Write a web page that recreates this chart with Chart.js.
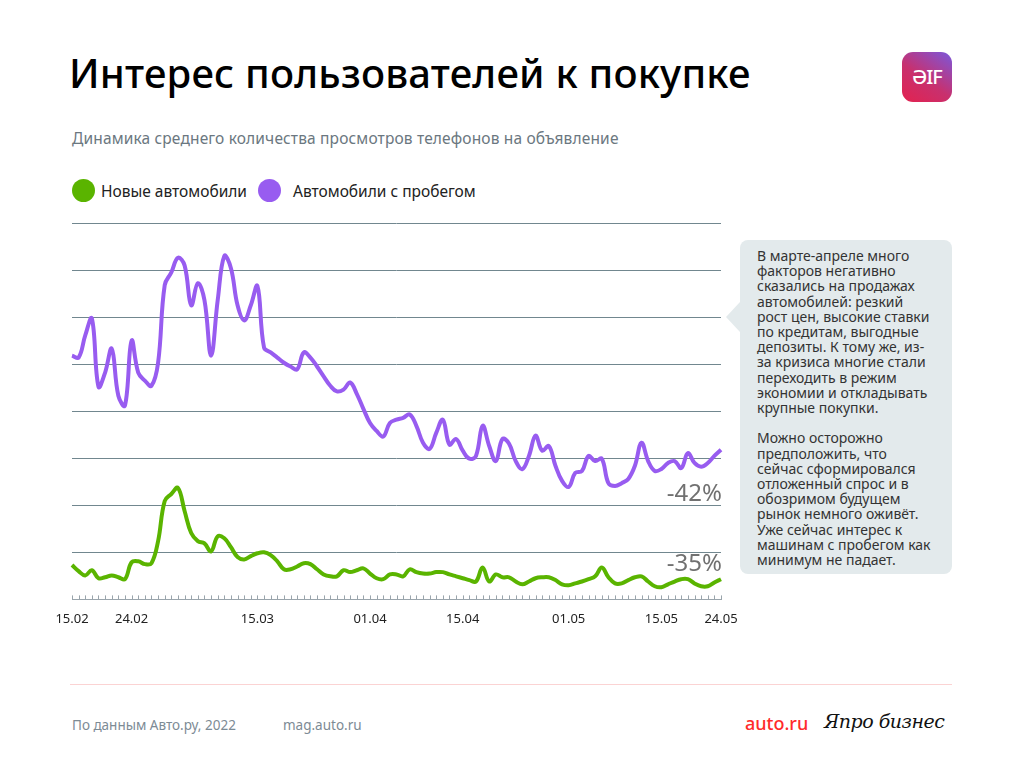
<!DOCTYPE html>
<html lang="ru">
<head>
<meta charset="utf-8">
<script src="https://cdn.jsdelivr.net/npm/chart.js@4/dist/chart.umd.min.js"></script>
<style>
  html, body { margin: 0; padding: 0; background: #fff; }
  body { width: 1024px; height: 768px; position: relative; overflow: hidden; font-family: 'Noto Sans', sans-serif; }
  .abs { position: absolute; }
  #title { left: 69px; top: 45px; font-size: 40px; font-weight: 500; color: #000; white-space: nowrap; letter-spacing: 0.2px; }
  #subtitle { left: 72px; top: 127px; font-size: 15.5px; color: #6b7780; white-space: nowrap; letter-spacing: 0.15px; }
  .legend { top: 179px; font-size: 15.5px; color: #222; white-space: nowrap; display: flex; align-items: center; }
  .dot { width: 23px; height: 23px; border-radius: 50%; display: inline-block; margin-right: 6px; }
  #chart-wrap { left: 0; top: 210px; width: 1024px; height: 430px; }
  #note { left: 740px; top: 240px; width: 212px; height: 334px; background: #e3eaec; border-radius: 8px; box-sizing: border-box; padding: 8px 6px 0 17px; font-size: 14px; line-height: 15.2px; color: #333; white-space: nowrap; }
  #note:before { content: ''; position: absolute; left: -14px; top: 62px; border-top: 15px solid transparent; border-bottom: 15px solid transparent; border-right: 14px solid #e3eaec; }
  #logo { left: 902px; top: 52px; width: 50px; height: 50px; border-radius: 11px; background: linear-gradient(35deg, #e3224f 0%, #c8306e 45%, #7a58dc 100%); color: #fff; font-size: 20px; font-weight: 500; text-align: center; line-height: 50px; letter-spacing: -1px; }
  #footline { left: 70px; top: 684px; width: 882px; height: 1px; background: #fbd3d3; }
  .foot { top: 716px; font-size: 13.5px; color: #7d8b95; white-space: nowrap; }
  #autoru { left: 745px; top: 711px; font-size: 18px; color: #ff2b2b; font-weight: 500; }
  #probiz { left: 824px; top: 710px; font-size: 19px; color: #111; font-style: italic; font-family: 'DejaVu Serif', serif; white-space: nowrap; letter-spacing: -0.5px; }
</style>
</head>
<body>
<div id="title" class="abs">Интерес пользователей к покупке</div>
<div id="subtitle" class="abs">Динамика среднего количества просмотров телефонов на объявление</div>
<div class="abs legend" style="left:72px"><span class="dot" style="background:#5ab400"></span>Новые автомобили</div>
<div class="abs legend" style="left:258px"><span class="dot" style="background:#985cf0;margin-right:12px"></span>Автомобили с пробегом</div>
<div id="logo" class="abs">ƏIF</div>

<div id="chart-wrap" class="abs"><canvas id="chart"></canvas></div>

<div id="note" class="abs">В марте-апреле много<br>факторов негативно<br>сказались на продажах<br>автомобилей: резкий<br>рост цен, высокие ставки<br>по кредитам, выгодные<br>депозиты. К тому же, из-<br>за кризиса многие стали<br>переходить в режим<br>экономии и откладывать<br>крупные покупки.<br><br>Можно осторожно<br>предположить, что<br>сейчас сформировался<br>отложенный спрос и в<br>обозримом будущем<br>рынок немного оживёт.<br>Уже сейчас интерес к<br>машинам с пробегом как<br>минимум не падает.</div>

<div id="footline" class="abs"></div>
<div class="abs foot" style="left:72px">По данным Авто.ру, 2022</div>
<div class="abs foot" style="left:283px">mag.auto.ru</div>
<div id="autoru" class="abs">auto.ru</div>
<div id="probiz" class="abs">Япро бизнес</div>

<script>
// daily points, 15.02 - 24.05
const startDate = new Date(2022, 1, 15);
const dayCount = 99;
const days = [];
for (let i = 0; i < dayCount; i += 1) {
  const d = new Date(startDate.getTime() + i * 86400000);
  days.push(`${String(d.getDate()).padStart(2, '0')}.${String(d.getMonth() + 1).padStart(2, '0')}`);
}

const shownTicks = ['15.02', '24.02', '15.03', '01.04', '15.04', '01.05', '15.05', '24.05'];

const usedCars = [
  5.18, 5.14, 5.61, 5.97, 4.52, 4.82, 5.33, 4.33, 4.12, 5.50,
  4.82, 4.65, 4.54, 5.03, 6.68, 6.95, 7.26, 7.10, 6.25, 6.72,
  6.36, 5.18, 6.36, 7.30, 7.04, 6.25, 5.93, 6.25, 6.66, 5.35,
  5.25, 5.14, 5.03, 4.95, 4.89, 5.25, 5.14, 4.95, 4.74, 4.54,
  4.42, 4.46, 4.61, 4.37, 4.05, 3.75, 3.58, 3.46, 3.75, 3.82,
  3.86, 3.93, 3.69, 3.33, 3.20, 3.54, 3.82, 3.29, 3.41, 3.16,
  2.99, 3.05, 3.69, 3.26, 2.94, 3.41, 3.31, 2.94, 2.77, 3.05,
  3.48, 3.16, 3.26, 2.84, 2.52, 2.39, 2.69, 2.73, 3.05, 2.94,
  2.99, 2.47, 2.41, 2.47, 2.56, 2.84, 3.33, 2.94, 2.73, 2.77,
  2.90, 2.94, 2.79, 3.11, 2.90, 2.82, 2.90, 3.05, 3.18,
];

const newCars = [
  0.73, 0.60, 0.51, 0.62, 0.45, 0.47, 0.51, 0.47, 0.43, 0.79,
  0.81, 0.75, 0.77, 1.24, 2.09, 2.24, 2.37, 1.88, 1.41, 1.24,
  1.19, 1.02, 1.34, 1.30, 1.11, 0.90, 0.85, 0.92, 0.98, 1.00,
  0.94, 0.81, 0.64, 0.64, 0.70, 0.77, 0.75, 0.64, 0.53, 0.49,
  0.49, 0.62, 0.58, 0.62, 0.66, 0.55, 0.45, 0.43, 0.53, 0.53,
  0.49, 0.64, 0.58, 0.55, 0.55, 0.58, 0.58, 0.53, 0.49, 0.45,
  0.41, 0.38, 0.68, 0.38, 0.53, 0.47, 0.47, 0.38, 0.32, 0.38,
  0.45, 0.47, 0.47, 0.41, 0.32, 0.30, 0.34, 0.38, 0.43, 0.49,
  0.68, 0.47, 0.34, 0.34, 0.41, 0.47, 0.49, 0.38, 0.28, 0.26,
  0.32, 0.38, 0.43, 0.43, 0.34, 0.28, 0.28, 0.36, 0.43,
];

const changeLabels = ['-42%', '-35%'];

const PURPLE = '#985cf0';
const GREEN = '#5ab400';

// small day ticks above the axis line + end-of-line percent labels
const axisExtras = {
  id: 'axisExtras',
  afterDraw(chart) {
    const { ctx, chartArea } = chart;
    const x = chart.scales.x;
    const y = chart.scales.y;
    ctx.save();
    ctx.strokeStyle = '#9aa5ac';
    ctx.lineWidth = 1;
    ctx.beginPath();
    for (let i = 0; i < days.length; i += 1) {
      const px = Math.round(x.getPixelForTick(i)) + 0.5;
      ctx.moveTo(px, chartArea.bottom);
      ctx.lineTo(px, chartArea.bottom - 4);
    }
    ctx.stroke();

    ctx.font = '24px "Noto Sans"';
    ctx.fillStyle = '#717171';
    ctx.textAlign = 'right';
    ctx.textBaseline = 'middle';
    const last = days.length - 1;
    ctx.fillText(changeLabels[0], chartArea.right + 1, y.getPixelForValue(usedCars[last]) + 44);
    ctx.fillText(changeLabels[1], chartArea.right + 1, y.getPixelForValue(newCars[last]) - 15);
    ctx.restore();
  },
};

// eslint-disable-next-line no-new
new Chart(
  document.getElementById('chart'),
  {
    type: 'line',
    data: {
      labels: days,
      datasets: [
        {
          label: 'Автомобили с пробегом',
          data: usedCars,
          borderColor: PURPLE,
          borderWidth: 4,
          pointRadius: 0,
          tension: 0.4,
          clip: false,
        },
        {
          label: 'Новые автомобили',
          data: newCars,
          borderColor: GREEN,
          borderWidth: 4,
          pointRadius: 0,
          tension: 0.4,
          clip: false,
        },
      ],
    },
    plugins: [axisExtras],
    options: {
      responsive: true,
      maintainAspectRatio: false,
      animation: false,
      layout: {
        padding: { left: 72, right: 303, top: 13, bottom: 9 },
      },
      plugins: {
        legend: { display: false },
        tooltip: { enabled: false },
      },
      scales: {
        x: {
          offset: false,
          grid: {
            display: false,
          },
          border: {
            display: true,
            color: '#9aa5ac',
            width: 1,
          },
          ticks: {
            autoSkip: false,
            maxRotation: 0,
            padding: 4,
            color: '#222',
            font: { family: 'Noto Sans', size: 13 },
            callback(val, index) {
              const label = days[index];
              return shownTicks.includes(label) ? label : '';
            },
          },
        },
        y: {
          min: 0,
          max: 8,
          grid: {
            color: '#71878f',
            lineWidth: 1,
            drawTicks: false,
          },
          border: { display: false },
          ticks: {
            display: false,
            stepSize: 1,
          },
        },
      },
    },
  },
);
</script>
</body>
</html>
